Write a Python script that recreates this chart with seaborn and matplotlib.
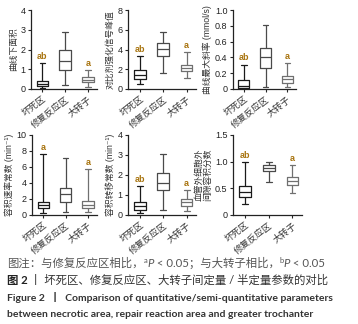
import numpy as np
import pandas as pd
import matplotlib
matplotlib.use("Agg")
import matplotlib.pyplot as plt
import seaborn as sns

# groups (x categories)
groups = ["坏死区", "修复反应区", "大转子"]

# five-number summaries per group: [min, Q1, median, Q3, max]
auc = [[0.05, 0.17, 0.27, 0.39, 1.32],
       [0.22, 0.96, 1.43, 1.98, 2.87],
       [0.08, 0.35, 0.47, 0.59, 0.97]]
peak = [[0.50, 1.04, 1.45, 1.88, 3.38],
        [1.60, 3.36, 4.07, 4.70, 5.80],
        [1.10, 1.78, 2.12, 2.39, 3.76]]
slope = [[0.005, 0.013, 0.04, 0.11, 0.31],
         [0.025, 0.26, 0.40, 0.52, 0.81],
         [0.02, 0.076, 0.13, 0.17, 0.33]]
kep = [[0.30, 0.92, 1.25, 1.67, 7.60],
       [0.33, 1.58, 2.58, 3.33, 7.10],
       [0.33, 0.92, 1.25, 1.75, 5.70]]
ktrans = [[0.08, 0.25, 0.47, 0.67, 1.43],
          [0.27, 1.23, 1.61, 2.10, 3.04],
          [0.22, 0.47, 0.67, 0.79, 1.23]]
ve = [[0.21, 0.34, 0.44, 0.54, 0.99],
      [0.61, 0.83, 0.88, 0.93, 0.99],
      [0.42, 0.56, 0.64, 0.72, 0.93]]

ylabels = ["曲线下面积", "对比剂强化信号峰值", "曲线最大斜率 (mmol/s)",
           "容积速率常数 (min⁻¹)", "容积转移常数 (min⁻¹)", "血管外细胞外\n间隙容积分数"]
yticks = [[0, 1, 2, 3, 4], [0, 2, 4, 6, 8], [0, 0.2, 0.4, 0.6, 0.8, 1.0],
          [0, 2, 4, 6, 8, 10], [0, 1, 2, 3, 4], [0, 0.5, 1.0, 1.5]]
yticklabels = [["0", "1", "2", "3", "4"], ["0", "2", "4", "6", "8"],
               ["0", "0.2", "0.4", "0.6", "0.8", "1.0"],
               ["0", "2", "4", "6", "8", "10"], ["0", "1", "2", "3", "4"],
               ["0", "0.5", "1.0", "1.5"]]
# significance letters above groups 1 and 3
marks = [["ab", "", "a"], ["ab", "", "a"], ["ab", "", "a"],
         ["a", "", "a"], ["ab", "", "a"], ["ab", "", "a"]]

panels = [auc, peak, slope, kep, ktrans, ve]

sns.set_style("ticks")
plt.rcParams["font.family"] = ["Liberation Sans", "Noto Sans CJK SC", "DejaVu Sans"]

W, H = 358, 324
fig = plt.figure(figsize=(W / 100, H / 100), dpi=100)

# axes boxes in pixels: left, top, right, bottom
rects = [(31, 10, 97, 89), (128, 10, 196, 89), (233, 10, 296, 89),
         (32, 135, 97, 215), (128, 135, 196, 215), (233, 135, 302, 215)]

box_colors = ["#1a1a1a", "#4a4a4a", "#707070"]
mark_color = "#a8740f"

for i, (stats, r) in enumerate(zip(panels, rects)):
    l, t, rr, b = r
    ax = fig.add_axes([l / W, 1 - b / H, (rr - l) / W, (b - t) / H])
    df = pd.DataFrame({"group": np.repeat(groups, 5),
                       "value": np.concatenate(stats)})
    sns.boxplot(data=df, x="group", y="value", hue="group", palette=box_colors,
                fill=False, whis=(0, 100), width=0.5, linewidth=0.9,
                legend=False, ax=ax)
    ax.set_xlim(-0.5, 2.4)
    ax.set_ylim(yticks[i][0], yticks[i][-1])
    ax.set_yticks(yticks[i])
    ax.set_yticklabels(yticklabels[i], fontsize=6.5, color="#222222")
    ax.set_xticks(range(3))
    ax.set_xticklabels(groups, rotation=38, ha="right", rotation_mode="anchor",
                       fontsize=6.5, color="#333333")
    ax.tick_params(axis="both", length=2.5, width=0.8, pad=1.5)
    ax.set_xlabel("")
    ax.set_ylabel(ylabels[i], fontsize=6.3, color="#333333", labelpad=2,
                  linespacing=1.0)
    for s in ["top", "right"]:
        ax.spines[s].set_visible(False)
    for s in ["left", "bottom"]:
        ax.spines[s].set_linewidth(0.9)
        ax.spines[s].set_color("#222222")
    for j, m in enumerate(marks[i]):
        if m:
            ax.annotate(m, (j, stats[j][4]), xytext=(0, 1.5),
                        textcoords="offset points", ha="center", va="bottom",
                        fontsize=6.5, fontweight="bold", color=mark_color)

cap = ["Lato", "Noto Sans CJK SC", "DejaVu Sans"]
renderer = fig.canvas.get_renderer()


def text_run(x, y, pieces):
    # draw text pieces one after another on a line; dy raises a piece (px)
    for s, kw in pieces:
        kw = dict(kw)
        dy = kw.pop("dy", 0)
        t = fig.text(x / W, 1 - (y - dy) / H, s, va="baseline", family=cap, **kw)
        x += t.get_window_extent(renderer).width


base = dict(fontsize=8.2, color="#555555")
sup = dict(fontsize=5.5, color="#555555", dy=4)
ital = dict(base, style="italic")
text_run(7, 267, [("图注：与修复反应区相比，", base), ("a", sup), ("P", ital),
                  (" < 0.05；与大转子相比，", base),
                  ("b", sup), ("P", ital), (" < 0.05", base)])
text_run(7, 284, [("图 2 ", dict(fontsize=8.2, fontweight="bold", color="#222222")),
                  ("丨 坏死区、修复反应区、大转子间定量 / 半定量参数的对比",
                   dict(fontsize=8.2, color="#333333"))])
fig.text(7 / W, 1 - 301 / H,
         "Figure 2  丨  Comparison of quantitative/semi-quantitative parameters",
         fontsize=7.5, fontweight="bold", color="#333333", va="baseline", family=cap)
fig.text(7 / W, 1 - 317 / H,
         "between necrotic area, repair reaction area and greater trochanter",
         fontsize=7.5, fontweight="bold", color="#333333", va="baseline", family=cap)

fig.savefig("out.png", dpi=100)
